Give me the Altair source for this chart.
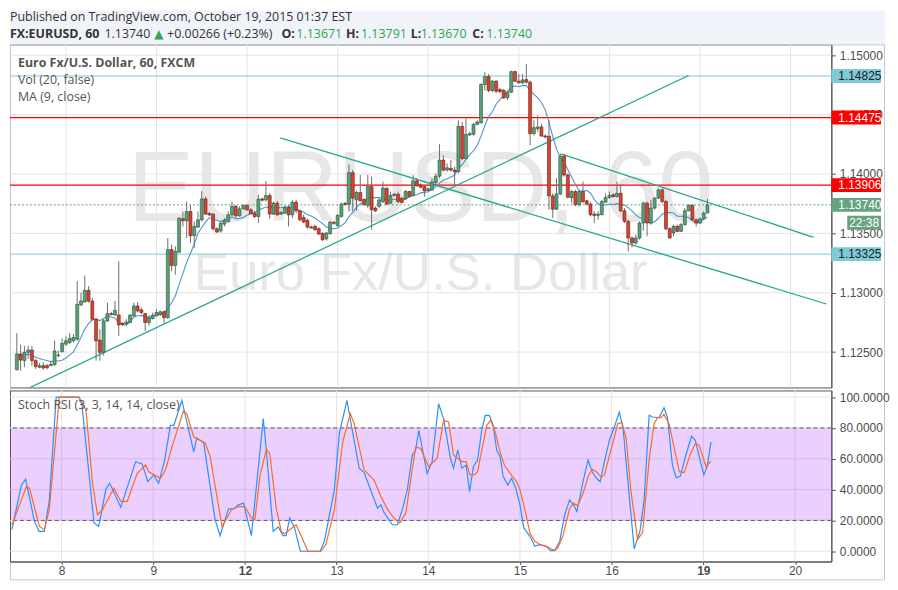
import altair as alt
import pandas as pd

# ---------------- data ----------------
opens = [1.12352, 1.12484, 1.12428, 1.12498, 1.12517, 1.12428, 1.12372, 1.12386, 1.12386, 1.12386,
 1.12394, 1.12470, 1.12503, 1.12567, 1.12581, 1.12595, 1.12609, 1.12897, 1.12922, 1.13020,
 1.12930, 1.12777, 1.12601, 1.12498, 1.12763, 1.12824, 1.12813, 1.12813, 1.12743, 1.12740,
 1.12749, 1.12805, 1.12888, 1.12855, 1.12824, 1.12749, 1.12782, 1.12805, 1.12815, 1.12840,
 1.12790, 1.13363, 1.13229, 1.13341, 1.13623, 1.13606, 1.13684, 1.13480, 1.13553, 1.13614,
 1.13790, 1.13667, 1.13662, 1.13539, 1.13520, 1.13578, 1.13600, 1.13656, 1.13726, 1.13648,
 1.13706, 1.13734, 1.13698, 1.13670, 1.13642, 1.13790, 1.13782, 1.13818, 1.13662, 1.13754,
 1.13662, 1.13670, 1.13717, 1.13656, 1.13762, 1.13690, 1.13634, 1.13609, 1.13553, 1.13559,
 1.13539, 1.13498, 1.13453, 1.13498, 1.13593, 1.13565, 1.13643, 1.13752, 1.13746, 1.14011,
 1.13782, 1.13844, 1.13785, 1.13735, 1.13894, 1.13713, 1.13727, 1.13768, 1.13880, 1.13754,
 1.13819, 1.13830, 1.13796, 1.13791, 1.13852, 1.13819, 1.13942, 1.13908, 1.13894, 1.13861,
 1.13866, 1.13927, 1.13982, 1.14117, 1.14033, 1.14047, 1.14033, 1.14019, 1.14401, 1.14130,
 1.14329, 1.14334, 1.14418, 1.14432, 1.14753, 1.14820, 1.14703, 1.14781, 1.14711, 1.14703,
 1.14641, 1.14689, 1.14862, 1.14781, 1.14767, 1.14795, 1.14773, 1.14340, 1.14382, 1.14396,
 1.14320, 1.14318, 1.13815, 1.13703, 1.13832, 1.14150, 1.13991, 1.13800, 1.13852, 1.13741,
 1.13852, 1.13774, 1.13746, 1.13662, 1.13651, 1.13657, 1.13763, 1.13802, 1.13824, 1.13810,
 1.13838, 1.13690, 1.13601, 1.13461, 1.13419, 1.13461, 1.13587, 1.13754, 1.13587, 1.13713,
 1.13796, 1.13866, 1.13768, 1.13539, 1.13503, 1.13559, 1.13517, 1.13573, 1.13690, 1.13735,
 1.13615, 1.13587, 1.13623, 1.13671]

highs = [1.12660, 1.12562, 1.12553, 1.12553, 1.12553, 1.12442, 1.12408, 1.12414, 1.12400, 1.12428,
 1.12595, 1.12512, 1.12615, 1.12632, 1.12660, 1.12651, 1.13098, 1.13000, 1.13145, 1.13056,
 1.12958, 1.12791, 1.12693, 1.12777, 1.12916, 1.12840, 1.12930, 1.13265, 1.12750, 1.12777,
 1.12820, 1.12916, 1.12922, 1.12875, 1.12830, 1.12810, 1.12833, 1.12861, 1.12850, 1.12850,
 1.13461, 1.13405, 1.13391, 1.13634, 1.13684, 1.13768, 1.13740, 1.13600, 1.13684, 1.13857,
 1.13810, 1.13678, 1.13670, 1.13550, 1.13600, 1.13628, 1.13684, 1.13768, 1.13740, 1.13726,
 1.13745, 1.13745, 1.13712, 1.13690, 1.13824, 1.13801, 1.13941, 1.13838, 1.13768, 1.13773,
 1.13690, 1.13734, 1.13740, 1.13782, 1.13782, 1.13699, 1.13657, 1.13623, 1.13567, 1.13573,
 1.13551, 1.13512, 1.13512, 1.13607, 1.13607, 1.13662, 1.13760, 1.13763, 1.14081, 1.14034,
 1.13858, 1.13992, 1.13796, 1.13992, 1.13978, 1.13727, 1.13796, 1.13936, 1.13886, 1.13852,
 1.13838, 1.13852, 1.13810, 1.13866, 1.13858, 1.13992, 1.13964, 1.13922, 1.13908, 1.13886,
 1.13964, 1.14005, 1.14251, 1.14158, 1.14089, 1.14117, 1.14061, 1.14452, 1.14438, 1.14466,
 1.14354, 1.14429, 1.14452, 1.14764, 1.14856, 1.14842, 1.14792, 1.14792, 1.14725, 1.14717,
 1.14703, 1.14870, 1.14870, 1.14842, 1.14842, 1.14926, 1.14787, 1.14452, 1.14493, 1.14424,
 1.14334, 1.14452, 1.13837, 1.13963, 1.14172, 1.14167, 1.14005, 1.13866, 1.13866, 1.13866,
 1.13936, 1.13782, 1.13763, 1.13685, 1.13685, 1.13782, 1.13838, 1.13852, 1.13838, 1.13936,
 1.13908, 1.13713, 1.13615, 1.13475, 1.13489, 1.13601, 1.13768, 1.13768, 1.13782, 1.13810,
 1.13880, 1.13880, 1.13782, 1.13551, 1.13573, 1.13573, 1.13587, 1.13713, 1.13746, 1.13746,
 1.13623, 1.13634, 1.13685, 1.13791]

lows = [1.12344, 1.12344, 1.12372, 1.12442, 1.12386, 1.12358, 1.12364, 1.12352, 1.12355, 1.12380,
 1.12386, 1.12456, 1.12498, 1.12553, 1.12567, 1.12581, 1.12595, 1.12888, 1.12916, 1.12916,
 1.12763, 1.12428, 1.12428, 1.12470, 1.12754, 1.12810, 1.12805, 1.12637, 1.12720, 1.12721,
 1.12745, 1.12800, 1.12833, 1.12819, 1.12679, 1.12721, 1.12775, 1.12800, 1.12805, 1.12740,
 1.12780, 1.13181, 1.13153, 1.13335, 1.13558, 1.13461, 1.13419, 1.13377, 1.13544, 1.13600,
 1.13656, 1.13645, 1.13522, 1.13503, 1.13505, 1.13558, 1.13586, 1.13642, 1.13628, 1.13642,
 1.13698, 1.13690, 1.13656, 1.13628, 1.13586, 1.13768, 1.13768, 1.13623, 1.13656, 1.13648,
 1.13656, 1.13662, 1.13558, 1.13628, 1.13671, 1.13601, 1.13587, 1.13539, 1.13539, 1.13523,
 1.13484, 1.13433, 1.13439, 1.13489, 1.13573, 1.13556, 1.13634, 1.13735, 1.13685, 1.13685,
 1.13690, 1.13768, 1.13735, 1.13713, 1.13531, 1.13679, 1.13713, 1.13754, 1.13741, 1.13746,
 1.13810, 1.13754, 1.13752, 1.13782, 1.13802, 1.13810, 1.13894, 1.13880, 1.13810, 1.13852,
 1.13858, 1.13907, 1.13963, 1.14019, 1.14019, 1.14019, 1.13907, 1.14005, 1.14117, 1.14117,
 1.14318, 1.14323, 1.14410, 1.14424, 1.14703, 1.14689, 1.14689, 1.14680, 1.14680, 1.14633,
 1.14625, 1.14680, 1.14773, 1.14764, 1.14759, 1.14764, 1.14242, 1.14326, 1.14354, 1.14312,
 1.14298, 1.13698, 1.13628, 1.13698, 1.13820, 1.13977, 1.13795, 1.13754, 1.13727, 1.13727,
 1.13754, 1.13735, 1.13643, 1.13587, 1.13615, 1.13651, 1.13754, 1.13791, 1.13802, 1.13802,
 1.13679, 1.13587, 1.13350, 1.13383, 1.13405, 1.13447, 1.13523, 1.13475, 1.13573, 1.13699,
 1.13791, 1.13754, 1.13523, 1.13453, 1.13475, 1.13512, 1.13512, 1.13567, 1.13685, 1.13601,
 1.13559, 1.13578, 1.13615, 1.13670]

closes = [1.12484, 1.12433, 1.12498, 1.12517, 1.12428, 1.12378, 1.12386, 1.12366, 1.12369, 1.12397,
 1.12509, 1.12475, 1.12573, 1.12595, 1.12615, 1.12623, 1.12902, 1.12930, 1.13020, 1.12930,
 1.12777, 1.12595, 1.12498, 1.12763, 1.12824, 1.12816, 1.12852, 1.12729, 1.12732, 1.12754,
 1.12810, 1.12888, 1.12847, 1.12833, 1.12749, 1.12788, 1.12810, 1.12833, 1.12840, 1.12790,
 1.13363, 1.13229, 1.13349, 1.13628, 1.13606, 1.13684, 1.13480, 1.13558, 1.13614, 1.13790,
 1.13662, 1.13656, 1.13539, 1.13511, 1.13584, 1.13606, 1.13656, 1.13726, 1.13648, 1.13706,
 1.13734, 1.13698, 1.13664, 1.13642, 1.13787, 1.13779, 1.13818, 1.13662, 1.13754, 1.13656,
 1.13676, 1.13717, 1.13656, 1.13762, 1.13690, 1.13615, 1.13595, 1.13553, 1.13545, 1.13531,
 1.13495, 1.13447, 1.13503, 1.13595, 1.13584, 1.13651, 1.13746, 1.13743, 1.14011, 1.13796,
 1.13844, 1.13774, 1.13741, 1.13894, 1.13699, 1.13690, 1.13782, 1.13880, 1.13746, 1.13819,
 1.13830, 1.13768, 1.13760, 1.13852, 1.13810, 1.13942, 1.13900, 1.13888, 1.13858, 1.13875,
 1.13933, 1.13982, 1.14117, 1.14033, 1.14052, 1.14033, 1.14019, 1.14401, 1.14130, 1.14334,
 1.14340, 1.14418, 1.14438, 1.14753, 1.14820, 1.14703, 1.14781, 1.14697, 1.14694, 1.14641,
 1.14689, 1.14862, 1.14781, 1.14767, 1.14792, 1.14773, 1.14340, 1.14390, 1.14396, 1.14320,
 1.14312, 1.13815, 1.13703, 1.13832, 1.14150, 1.13991, 1.13804, 1.13852, 1.13741, 1.13852,
 1.13768, 1.13746, 1.13657, 1.13651, 1.13662, 1.13768, 1.13802, 1.13819, 1.13810, 1.13838,
 1.13690, 1.13601, 1.13461, 1.13419, 1.13461, 1.13587, 1.13754, 1.13587, 1.13713, 1.13796,
 1.13866, 1.13768, 1.13539, 1.13461, 1.13559, 1.13517, 1.13573, 1.13690, 1.13735, 1.13615,
 1.13587, 1.13623, 1.13671, 1.13740]

stoch_k_x = [0, 2.5, 3.6, 5.9, 7.1, 8.5, 9.8, 11.6, 17.5, 18.3,
 21.5, 22.7, 24.6, 25.6, 28.5, 32.4, 34.1, 35.6, 37.1, 38.4,
 39.9, 41.5, 42.4, 44.5, 47.6, 48.4, 50.2, 53.2, 54.5, 56.7,
 58.0, 59.3, 60.6, 62.7, 65.8, 66.6, 68.4, 69.7, 71.0, 71.8,
 72.7, 74.0, 75.5, 80.7, 81.8, 84.4, 85.7, 87.7, 90.9, 92.2,
 95.7, 96.6, 97.4, 99.6, 100.9, 102.2, 103.5, 104.8, 105.7, 106.5,
 108.7, 110.0, 111.7, 113.0, 114.8, 115.6, 116.7, 117.8, 118.9, 119.8,
 120.8, 121.9, 123.0, 123.9, 125.0, 126.0, 126.9, 127.8, 128.6, 129.8,
 130.8, 131.9, 133.0, 134.0, 135.6, 136.9, 138.0, 139.9, 141.0, 142.1,
 143.4, 144.7, 146.0, 147.0, 147.9, 149.5, 150.8, 151.9, 153.0, 154.0,
 155.1, 156.4, 157.7, 159.0, 160.0, 161.2, 162.9, 164.4, 165.5, 166.8,
 167.7, 169.4, 170.7, 171.6, 172.9, 173.9, 175.0, 176.3, 177.9, 178.9,
 181.1, 182.0, 183.0]
stoch_k_v = [14, 43.0, 46.7, 19.4, 12.9, 12.9, 33.3, 100, 100, 95.7,
 18.3, 16.1, 40.2, 44.1, 28.6, 58.1, 56.6, 45.2, 49.5, 44.1,
 58.1, 81.7, 81.7, 97.8, 64.5, 73.5, 70.3, 20.4, 10.1, 27.5,
 27.5, 30.1, 31.2, 10.1, 86.0, 65.6, 12.9, 15.7, 10.1, 10.1,
 21.5, 15.1, 0, 0, 6.5, 39.8, 76.3, 97.8, 53.8, 51.0,
 27.9, 30.1, 25.2, 17.2, 17.2, 26.9, 39.8, 62.4, 65.6, 78.5,
 50.5, 58.1, 95.7, 86.0, 60.2, 53.8, 65.6, 53.8, 55.9, 38.7,
 54.8, 59.1, 78.5, 88.2, 88.2, 81.7, 65.6, 61.3, 48.4, 43.0,
 47.3, 40.9, 30.1, 15.1, 9.7, 3.2, 4.3, 3.2, 0.4, 0.4,
 6.5, 23.7, 33.3, 30.1, 25.8, 45.2, 59.1, 51.6, 47.3, 45.2,
 58.1, 72.0, 80.6, 90.3, 79.6, 46.2, 1.5, 12.9, 33.3, 88.2,
 87.1, 86.7, 93.1, 87.1, 55.9, 47.7, 48.8, 61.3, 74.6, 72.0,
 49.5, 54.8, 71.0]

stoch_d_x = [0, 3.8, 4.6, 7.2, 8.5, 9.8, 12.0, 12.4, 17.6, 19.4,
 21.1, 22.4, 23.7, 26.7, 28.5, 30.2, 32.8, 35.0, 35.8, 38.9,
 40.2, 41.9, 44.9, 45.8, 47.6, 50.6, 51.9, 55.0, 57.5, 59.3,
 61.0, 62.7, 63.6, 64.9, 66.6, 67.5, 69.2, 70.5, 71.4, 74.4,
 77.5, 80.9, 82.2, 84.4, 86.6, 88.6, 89.6, 92.2, 94.8, 96.6,
 98.3, 100.0, 101.5, 103.1, 105.7, 107.0, 109.1, 111.3, 113.0, 114.3,
 115.6, 116.7, 117.8, 118.9, 119.9, 121.0, 121.9, 123.0, 124.3, 125.3,
 126.5, 127.8, 128.9, 130.4, 132.1, 133.0, 134.3, 135.6, 136.9, 138.0,
 139.9, 141.2, 142.1, 142.9, 144.2, 146.0, 147.0, 148.1, 149.5, 151.0,
 151.9, 153.0, 154.3, 155.1, 156.8, 158.6, 159.7, 160.8, 162.0, 163.8,
 165.1, 166.8, 168.1, 169.0, 169.9, 170.7, 172.0, 173.4, 174.7, 176.0,
 177.5, 178.9, 179.9, 181.7, 183.0]
stoch_d_v = [17, 41.9, 40.9, 16.1, 14.0, 26.9, 88.2, 100, 100, 91.4,
 44.1, 23.7, 26.9, 40.9, 32.3, 32.3, 50.5, 55.9, 51.6, 47.3,
 52.7, 67.7, 91.0, 89.2, 74.2, 70.3, 61.3, 16.1, 26.9, 29.0,
 29.0, 21.5, 20.4, 48.4, 66.0, 63.4, 27.9, 12.9, 11.4, 17.2,
 0, 0, 4.3, 26.9, 71.0, 89.2, 82.8, 52.7, 46.2, 35.5,
 27.3, 21.5, 18.3, 24.7, 67.7, 66.7, 54.8, 60.2, 84.9, 83.9,
 62.4, 60.2, 58.1, 58.1, 49.5, 49.5, 51.6, 65.6, 81.7, 84.9,
 77.4, 64.5, 55.9, 50.5, 45.2, 39.8, 26.9, 11.8, 6.5, 4.7,
 3.2, 1.5, 0.6, 2.2, 9.7, 27.9, 31.2, 29.5, 37.6, 49.5,
 53.1, 51.6, 48.0, 49.5, 65.6, 82.8, 83.4, 73.1, 39.8, 7.5,
 12.3, 59.1, 82.8, 86.7, 86.7, 88.8, 82.8, 66.7, 51.6, 51.0,
 62.4, 69.9, 68.8, 54.8, 58.5]

day_ticks = [13, 37, 61, 85, 109, 133, 157, 181, 205]
day_labels = ["8", "9", "12", "13", "14", "15", "16", "19", "20"]
bold_day_ticks = [61, 181]
price_ticks = [1.125, 1.13, 1.135, 1.14, 1.145, 1.15]
stoch_ticks = [0, 20, 40, 60, 80, 100]
band_low, band_high = 20, 80

support_levels = [1.14825, 1.13325]      # cyan horizontal lines
resistance_levels = [1.14475, 1.13906]   # red horizontal lines
last_price = 1.13740
countdown = "22:38"

trend_x1 = [2.9, 69.8, 144.2]
trend_p1 = [1.12193, 1.14304, 1.14170]
trend_x2 = [178.0, 214.5, 211.1]
trend_p2 = [1.14829, 1.12905, 1.13467]

# ---------------- layout / style ----------------
W, H1, H2 = 826, 345, 172
X_DOMAIN = [-0.5, 214.5]
PRICE_DOMAIN = [1.12202, 1.15091]
STOCH_DOMAIN = [-6.65, 104.3]
FONT = "Open Sans"
AXFONT = "Liberation Sans"
UP, DOWN = "#5c9f78", "#d8432f"
UP_B, DOWN_B = "#225437", "#6b1d13"
WICK = "#6e6e6e"
CYAN = "#7ecbd8"
RED = "#ff0000"
GREEN_BOX = "#66a381"
TEAL = "#26a88b"
GRID = "#e4e4e4"
TXT = "#555555"

one = pd.DataFrame({"a": [0]})
candles = pd.DataFrame({"k": list(range(len(closes))), "o": opens, "h": highs, "l": lows, "c": closes})

xs = alt.Scale(domain=X_DOMAIN, nice=False, zero=False)
ys = alt.Scale(domain=PRICE_DOMAIN, nice=False, zero=False)
ss = alt.Scale(domain=STOCH_DOMAIN, nice=False, zero=False)

yaxis = alt.Axis(orient="right", values=price_ticks, format=".5f", grid=False, tickSize=4,
                 tickColor="#555", domainColor="#555", labelColor="#4d4d4d", labelFont=AXFONT,
                 labelFontSize=12, labelPadding=4, title=None)
saxis = alt.Axis(orient="right", values=stoch_ticks, format=".4f", grid=False, tickSize=4,
                 tickColor="#555", domainColor="#555", labelColor="#4d4d4d", labelFont=AXFONT,
                 labelFontSize=12, labelPadding=4, title=None)
lab_expr = "%s[indexof(%s, datum.value)]" % (
    "[" + ",".join("'%s'" % l for l in day_labels) + "]",
    "[" + ",".join(str(t) for t in day_ticks) + "]")
bold_test = "indexof([%s], datum.value) >= 0" % ",".join(str(t) for t in bold_day_ticks)
xaxis_low = alt.Axis(values=day_ticks, labelExpr=lab_expr, grid=False, tickSize=3,
                     tickColor="#555", domainColor="#555", labelColor="#4d4d4d", labelFont=AXFONT,
                     labelFontSize=12, labelPadding=1, title=None, labelFlush=False,
                     labelFontWeight={"condition": {"test": bold_test, "value": "bold"}, "value": "normal"})


def PX(f):
    return alt.X(f, type="quantitative", scale=xs, axis=None)


def PY(f):
    return alt.Y(f, type="quantitative", scale=ys, axis=yaxis)


def LX(f):
    return alt.X(f, type="quantitative", scale=xs, axis=xaxis_low)


def SY(f):
    return alt.Y(f, type="quantitative", scale=ss, axis=saxis)


def label(text, x, y, size=12.5, weight="normal", color=TXT, font=FONT, align="left", baseline="middle"):
    return alt.Chart(one).mark_text(text=text, align=align, baseline=baseline, font=font,
                                    fontSize=size, fontWeight=weight, color=color).encode(
        x=alt.value(x), y=alt.value(y))


# ---------------- upper panel ----------------
header_bg = alt.Chart(one).mark_rect(color="#f0f3fa").encode(
    x=alt.value(0), x2=alt.value(880), y=alt.value(-34), y2=alt.value(0))
outer_box = alt.Chart(one).mark_rect(fillOpacity=0, stroke="#c3c8d0", strokeWidth=1).encode(
    x=alt.value(0.5), x2=alt.value(879.5), y=alt.value(0.5), y2=alt.value(538.5))

wm1 = label("EURUSD, 60", W / 2, 178, size=100, color="#e7e7e7", font=AXFONT, align="center", baseline="alphabetic")
wm2 = label("Euro Fx/U.S. Dollar", W / 2, 247, size=53, color="#e7e7e7", font=AXFONT, align="center", baseline="alphabetic")

vgrid = alt.Chart(pd.DataFrame({"t": day_ticks})).mark_rule(color=GRID).encode(x=PX("t"))
hgrid = alt.Chart(pd.DataFrame({"p": price_ticks})).mark_rule(color=GRID).encode(y=PY("p"))

sup_df = pd.DataFrame({"p": support_levels})
res_df = pd.DataFrame({"p": resistance_levels})
last_df = pd.DataFrame({"p": [last_price], "t": [countdown]})

sup_lines = alt.Chart(sup_df).mark_rule(color=CYAN, strokeWidth=1).encode(y=PY("p"))
res_lines = alt.Chart(res_df).mark_rule(color=RED, strokeWidth=1.2).encode(y=PY("p"))
last_line = alt.Chart(last_df).mark_rule(color=GREEN_BOX, strokeWidth=1, strokeDash=[2, 2]).encode(y=PY("p"))

trend_df = pd.DataFrame({"x1": trend_x1, "p1": trend_p1, "x2": trend_x2, "p2": trend_p2})
trends = alt.Chart(trend_df).mark_rule(color=TEAL, strokeWidth=1.3, clip=True).encode(
    x=PX("x1"), y=PY("p1"), x2=alt.X2("x2"), y2=alt.Y2("p2"))

ma = alt.Chart(candles).transform_window(
    ma="mean(c)", frame=[-8, 0], sort=[{"field": "k"}]
).mark_line(color="#4f93ce", strokeWidth=1.1).encode(x=PX("k"), y=PY("ma"))

wicks = alt.Chart(candles).mark_rule(color=WICK, strokeWidth=1).encode(
    x=PX("k"), y=PY("l"), y2=alt.Y2("h"))
bodies = alt.Chart(candles).mark_bar(size=3, strokeWidth=0.6).encode(
    x=PX("k"), y=PY("o"), y2=alt.Y2("c"),
    fill=alt.condition("datum.c >= datum.o", alt.value(UP), alt.value(DOWN)),
    stroke=alt.condition("datum.c >= datum.o", alt.value(UP_B), alt.value(DOWN_B)))

leg1 = label("Euro Fx/U.S. Dollar, 60, FXCM", 8, 19, weight="bold")
leg2 = label("Vol (20, false)", 8, 36)
leg3 = label("MA (9, close)", 8, 53)

HG = "#2ea84a"
h1 = label("Published on TradingView.com, October 19, 2015 01:37 EST", 0, -27.5, size=12.5, color="#333")
hy = -10.5
h2 = [
    label("FX:EURUSD, 60", 0, hy, weight="bold", color="#333"),
    label("1.13740", 95, hy, color="#333"),
    label("\u25B2", 145, hy, color=HG, font="DejaVu Sans", size=12),
    label("+0.00266 (+0.23%)", 158, hy, color="#333"),
    label("O:", 273, hy, weight="bold", color="#333"),
    label("1.13671", 288, hy, color=HG),
    label("H:", 338, hy, weight="bold", color="#333"),
    label("1.13791", 353, hy, color=HG),
    label("L:", 403, hy, weight="bold", color="#333"),
    label("1.13670", 413, hy, color=HG),
    label("C:", 465, hy, weight="bold", color="#333"),
    label("1.13740", 479, hy, color=HG),
]

BOX = "M-1,-0.28H1V0.28H-1Z"
SMALLBOX = "M-1,-0.41H1V0.41H-1Z"


def price_box(df, fill, tcolor):
    b = alt.Chart(df).mark_point(shape=BOX, size=2500, filled=True, opacity=1, color=fill,
                                 strokeWidth=0).encode(x=alt.value(W + 25), y=PY("p"))
    t = alt.Chart(df).mark_text(align="left", baseline="middle", font=AXFONT, fontSize=12,
                                color=tcolor).encode(x=alt.value(W + 7), y=PY("p"),
                                                     text=alt.Text("p:Q", format=".5f"))
    return [b, t]


boxes = price_box(sup_df, CYAN, "#222") + price_box(res_df, RED, "#fff") + price_box(last_df, GREEN_BOX, "#fff")
cd_box = alt.Chart(last_df).mark_point(shape=SMALLBOX, size=1156, filled=True, opacity=1, color=GREEN_BOX,
                                       strokeWidth=0, yOffset=18).encode(x=alt.value(W + 33), y=PY("p"))
cd_txt = alt.Chart(last_df).mark_text(align="center", baseline="middle", font=AXFONT, fontSize=12,
                                      color="#fff", yOffset=18).encode(x=alt.value(W + 33), y=PY("p"),
                                                                       text="t:N")

upper = alt.layer(header_bg, outer_box, wm1, wm2, vgrid, hgrid, sup_lines, res_lines, last_line,
                  trends, ma, wicks, bodies, leg1, leg2, leg3, h1, *h2, *boxes, cd_box, cd_txt
                  ).properties(width=W, height=H1)

# ---------------- lower panel (Stoch RSI) ----------------
svgrid = alt.Chart(pd.DataFrame({"t": day_ticks})).mark_rule(color=GRID).encode(x=LX("t"))
shgrid = alt.Chart(pd.DataFrame({"v": stoch_ticks})).mark_rule(color=GRID).encode(y=SY("v"))
band = alt.Chart(pd.DataFrame({"lo": [band_low], "hi": [band_high]})).mark_rect(
    color="#9915ff", opacity=0.2).encode(x=alt.value(0), x2=alt.value(W), y=SY("lo"), y2=alt.Y2("hi"))
dashes = alt.Chart(pd.DataFrame({"v": [band_low, band_high]})).mark_rule(
    color="#5d5466", strokeDash=[4, 3], strokeWidth=1).encode(y=SY("v"))
k_line = alt.Chart(pd.DataFrame({"x": stoch_k_x, "v": stoch_k_v})).mark_line(
    color="#2f8fff", strokeWidth=1.2).encode(x=LX("x"), y=SY("v"))
d_line = alt.Chart(pd.DataFrame({"x": stoch_d_x, "v": stoch_d_v})).mark_line(
    color="#ff6a22", strokeWidth=1.2).encode(x=LX("x"), y=SY("v"))
slabel = label("Stoch RSI (3, 3, 14, 14, close)", 8, 15)

lower = alt.layer(svgrid, shgrid, band, dashes, k_line, d_line, slabel).properties(width=W, height=H2)

chart = alt.vconcat(upper, lower, spacing=3, bounds="flush", background="white", padding=0
                    ).configure_view(stroke="#555", strokeWidth=1)

chart.save("out.html", embed_options={"renderer": "svg", "actions": False})
